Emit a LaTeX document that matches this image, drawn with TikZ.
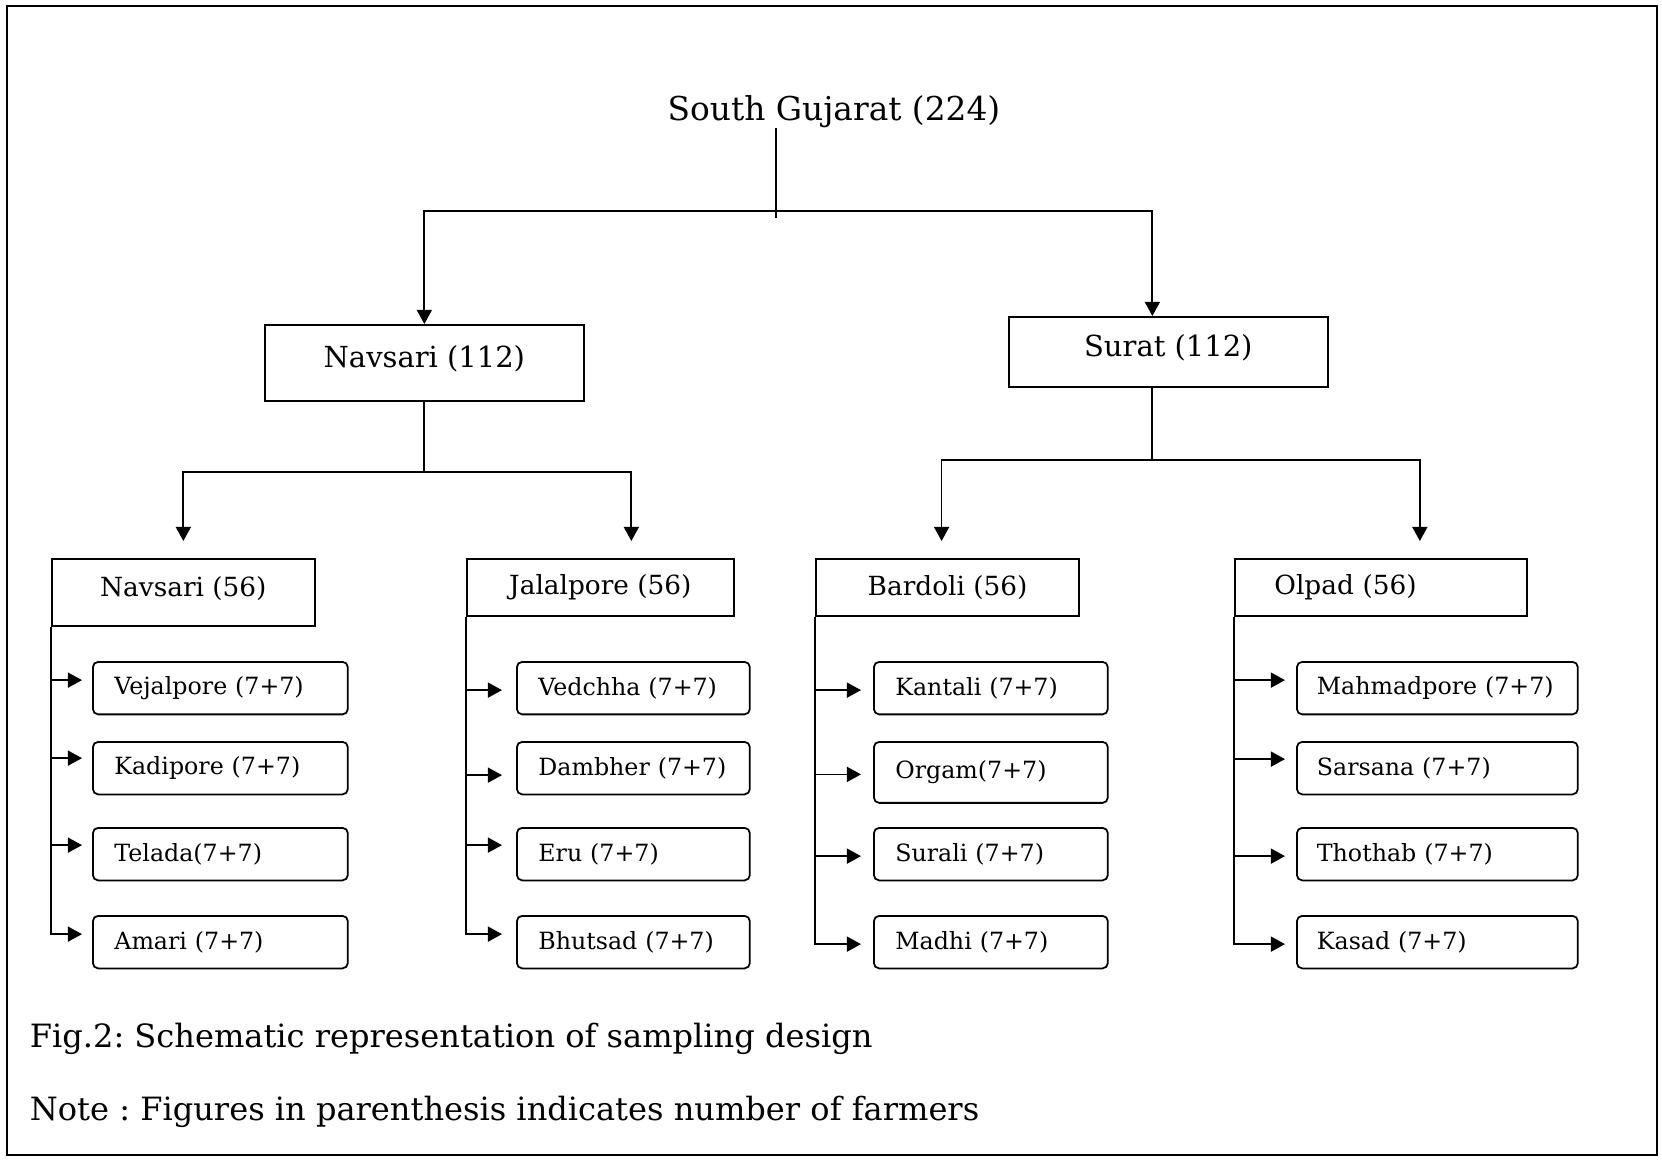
\documentclass[tikz,border=0pt]{standalone}
\usepackage{fontspec}
\setmainfont{DejaVu Serif}
\usetikzlibrary{positioning,calc,arrows.meta}
\frenchspacing

\begin{document}
\begin{tikzpicture}[x=0.02cm,y=-0.02cm,>={Triangle[length=8pt,width=8.5pt]},
  line width=1pt,
  every node/.style={inner sep=0pt},
  top/.style={font=\fontsize{18.7}{22}\selectfont},
  district/.style={rectangle,draw,anchor=north west,minimum width=63.8mm,
    text depth=2.5mm,font=\fontsize{16.5}{19}\selectfont},
  taluka/.style={rectangle,draw,anchor=north west,minimum height=11.4mm,
    font=\fontsize{15}{18}\selectfont},
  village/.style={rectangle,draw,rounded corners=3pt,anchor=north west,
    align=left,inner xsep=4.3mm,minimum height=10.5mm,
    font=\fontsize{13.5}{16}\selectfont},
  navvil/.style={village,text width=42.4mm},
  jalvil/.style={village,text width=38mm},
  barvil/.style={village,text width=38.2mm},
  olpvil/.style={village,inner xsep=4mm,text width=48.2mm},
  caption/.style={anchor=base west,font=\fontsize{18.25}{22}\selectfont}]
  \useasboundingbox (0,0) rectangle (1662,1159);
  \draw (7,6) rectangle (1657,1155);

  % state and districts
  \node[top,anchor=base] (root) at (834,120) {South Gujarat (224)};
  \node[district,minimum height=15.2mm] (navsari) at (264,324) {Navsari (112)};
  \node[district,minimum height=14mm] (surat) at (1008,316) {Surat (112)};

  % talukas
  \node[taluka,minimum width=52.6mm,minimum height=13.4mm,text depth=2.2mm] (navtal) at (51,558) {Navsari (56)};
  \node[taluka,minimum width=53.4mm] (jalal) at (466,558) {Jalalpore (56)};
  \node[taluka,minimum width=52.7mm] (bard) at (815,558) {Bardoli (56)};
  \node[taluka,text width=42.6mm,inner xsep=7.9mm,align=left] (olpad) at (1234,558) {Olpad (56)};

  % villages
  \node[navvil] (vejal) at (92,661) {Vejalpore (7+7)};
  \node[navvil] (kadi) at (92,741) {Kadipore (7+7)};
  \node[navvil] (telada) at (92,827) {Telada(7+7)};
  \node[navvil] (amari) at (92,915) {Amari (7+7)};
  \node[jalvil] (vedch) at (516,661) {Vedchha (7+7)};
  \node[jalvil] (damb) at (516,741) {Dambher (7+7)};
  \node[jalvil] (eru) at (516,827) {Eru (7+7)};
  \node[jalvil] (bhut) at (516,915) {Bhutsad (7+7)};
  \node[barvil] (kant) at (873,661) {Kantali (7+7)};
  \node[barvil,minimum height=12.2mm] (orgam) at (873,741) {Orgam(7+7)};
  \node[barvil] (surali) at (873,827) {Surali (7+7)};
  \node[barvil] (madhi) at (873,915) {Madhi (7+7)};
  \node[olpvil] (mahm) at (1296,661) {Mahmadpore (7+7)};
  \node[olpvil] (sars) at (1296,741) {Sarsana (7+7)};
  \node[olpvil] (thot) at (1296,827) {Thothab (7+7)};
  \node[olpvil] (kasad) at (1296,915) {Kasad (7+7)};

  % state to districts
  \coordinate (split) at (776,211);
  \draw (root.south -| split) -- ($(split)+(0,7)$);
  \draw[->] (split) -| (navsari.north);
  \draw[->] (split) -| ($(surat.north)+(-16,0)$);

  % districts to talukas
  \draw (navsari.south) -- ++(0,70) coordinate (nbar);
  \draw[->,shorten >=3.4mm] (nbar) -| (navtal.north);
  \draw[->,shorten >=3.4mm] (nbar) -| ($(jalal.north)+(31,0)$);
  \draw ($(surat.south)+(-16,0)$) -- ++(0,72) coordinate (sbar);
  \draw[->,shorten >=3.4mm] (sbar) -| ($(bard.north)+(-6,0)$);
  \draw[->,shorten >=3.4mm] (sbar) -| ($(olpad.north)+(39,0)$);

  % talukas to villages
  \draw[->] (navtal.south west) |- ($(amari.west)+(-10,-8)$);
  \draw[->] ($(vejal.west -| navtal.west)+(0,-8)$) -- ($(vejal.west)+(-10,-8)$);
  \draw[->] ($(kadi.west -| navtal.west)+(0,-10)$) -- ($(kadi.west)+(-10,-10)$);
  \draw[->] ($(telada.west -| navtal.west)+(0,-9)$) -- ($(telada.west)+(-10,-9)$);
  \draw[->] (jalal.south west) |- ($(bhut.west)+(-14,-8)$);
  \draw[->] ($(vedch.west -| jalal.west)+(0,2)$) -- ($(vedch.west)+(-14,2)$);
  \draw[->] ($(damb.west -| jalal.west)+(0,7)$) -- ($(damb.west)+(-14,7)$);
  \draw[->] ($(eru.west -| jalal.west)+(0,-9)$) -- ($(eru.west)+(-14,-9)$);
  \draw[->] (bard.south west) |- ($(madhi.west)+(-12,2)$);
  \draw[->] ($(kant.west -| bard.west)+(0,2)$) -- ($(kant.west)+(-12,2)$);
  \draw[->] ($(orgam.west -| bard.west)+(0,2)$) -- ($(orgam.west)+(-12,2)$);
  \draw[->] ($(surali.west -| bard.west)+(0,2)$) -- ($(surali.west)+(-12,2)$);
  \draw[->] (olpad.south west) |- ($(kasad.west)+(-11,2)$);
  \draw[->] ($(mahm.west -| olpad.west)+(0,-8)$) -- ($(mahm.west)+(-11,-8)$);
  \draw[->] ($(sars.west -| olpad.west)+(0,-9)$) -- ($(sars.west)+(-11,-9)$);
  \draw[->] ($(thot.west -| olpad.west)+(0,2)$) -- ($(thot.west)+(-11,2)$);

  % captions
  \node[caption] (fig) at (29,1047) {Fig.2: Schematic representation of sampling design};
  \node[caption] (note) at (29,1120) {Note : Figures in parenthesis indicates number of farmers};
\end{tikzpicture}
\end{document}
